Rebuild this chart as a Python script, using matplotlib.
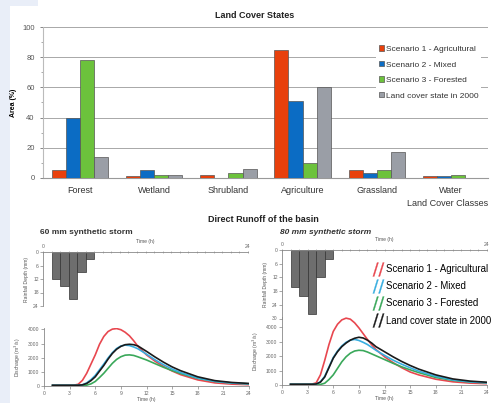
import matplotlib.pyplot as plt
from matplotlib.lines import Line2D
from matplotlib.patches import Rectangle
import numpy as np

plt.rcParams['font.family'] = ['Liberation Sans', 'DejaVu Sans']

# Land cover data (% of basin area)
classes = ['Forest', 'Wetland', 'Shrubland', 'Agriculture', 'Grassland', 'Water']
scenario1 = [5, 1, 2, 85, 5, 1]
scenario2 = [40, 5, 0, 51, 3, 1]
scenario3 = [78, 2, 3, 10, 5, 2]
state2000 = [14, 2, 6, 60, 17, 0]
bar_labels = ['Scenario 1 - Agricultural', 'Scenario 2 - Mixed',
              'Scenario 3 - Forested', 'Land cover state in 2000']
bar_colors = ['#e8400c', '#0b6cc4', '#6cc23c', '#9a9ea6']

# Hyetographs (rainfall depth per hour, mm)
rain_hours = [1, 2, 3, 4, 5]
rain60 = [12, 15, 21, 9, 3]
rain80 = [16, 20, 28, 12, 4]

# Direct runoff hydrographs (m3/s)
t = [1, 2, 3, 3.5, 4, 4.5, 5, 5.5, 6, 6.5, 7, 7.5, 8, 8.5, 9, 9.5, 10, 10.5,
     11, 12, 13, 14, 15, 16, 18, 20, 22, 24]
red60 = [50, 50, 50, 60, 120, 400, 900, 1550, 2200, 2950, 3500, 3850, 4020, 4060,
         3980, 3800, 3550, 3200, 2800, 2200, 1750, 1380, 1060, 800, 430, 220, 130, 90]
blue60 = [50, 50, 50, 50, 55, 90, 220, 450, 750, 1150, 1550, 1980, 2350, 2650,
          2830, 2890, 2860, 2760, 2630, 2250, 1850, 1500, 1200, 950, 560, 330, 210, 150]
green60 = [40, 40, 40, 40, 40, 40, 60, 150, 320, 600, 900, 1250, 1600, 1880,
           2070, 2180, 2200, 2160, 2060, 1840, 1580, 1320, 1090, 880, 540, 320, 210, 150]
black60 = [50, 50, 50, 50, 55, 80, 180, 380, 650, 1050, 1450, 1900, 2300, 2600,
           2800, 2920, 2950, 2920, 2830, 2450, 2050, 1680, 1350, 1080, 650, 380, 250, 180]
red80 = [50, 50, 50, 60, 150, 700, 1700, 2800, 3700, 4200, 4500, 4620, 4550, 4300,
         3950, 3550, 3150, 2780, 2450, 1950, 1550, 1200, 900, 700, 400, 220, 130, 90]
blue80 = [50, 50, 50, 50, 70, 220, 600, 1250, 1900, 2350, 2700, 2950, 3100, 3150,
          3080, 2950, 2800, 2600, 2400, 2050, 1720, 1440, 1190, 960, 600, 350, 220, 150]
green80 = [40, 40, 40, 40, 40, 40, 120, 380, 700, 1150, 1600, 1950, 2200, 2350,
           2400, 2380, 2280, 2150, 2020, 1760, 1500, 1260, 1050, 860, 520, 320, 210, 150]
black80 = [50, 50, 50, 50, 70, 200, 550, 1200, 1850, 2300, 2650, 2900, 3100, 3230,
           3300, 3250, 3100, 2900, 2650, 2300, 1950, 1630, 1350, 1100, 700, 420, 270, 190]
line_colors = ['#e8474f', '#38aee0', '#3aa85a', '#1a1a1a']

W, H = 495, 403


def box(x0, y0, x1, y1):
    # pixel box (top-left origin) -> figure fraction rect
    return [x0 / W, 1 - y1 / H, (x1 - x0) / W, (y1 - y0) / H]


fig = plt.figure(figsize=(W / 100, H / 100), dpi=100, facecolor='#e9eef8')
fig.patches.append(Rectangle((10 / W, 0), 1, (H - 6) / H, transform=fig.transFigure,
                             facecolor='white', edgecolor='none', zorder=-10))
fig.patches.append(Rectangle((38 / W, 0), 1, 1, transform=fig.transFigure,
                             facecolor='white', edgecolor='none', zorder=-10))

# ---------------- Land cover bar chart ----------------
ax = fig.add_axes(box(43, 27, 488, 178))
ax.set_facecolor('none')
x = np.arange(len(classes))
bw = 0.19
for i, vals in enumerate([scenario1, scenario2, scenario3, state2000]):
    ax.bar(x + (i - 1.5) * bw, vals, bw, color=bar_colors[i], edgecolor='#555555',
           linewidth=0.5, label=bar_labels[i], zorder=3)
ax.set_xlim(-0.5, len(classes) - 0.5)
ax.set_ylim(0, 100)
ax.set_yticks([0, 20, 40, 60, 80, 100])
ax.set_yticks([10, 30, 50, 70, 90], minor=True)
ax.set_xticks(x)
ax.set_xticklabels(classes, fontsize=6.5, color='#333333')
ax.tick_params(axis='x', length=0, pad=6)
ax.tick_params(axis='y', labelsize=5.5, colors='#555555', length=2.5, width=0.5)
ax.tick_params(axis='y', which='minor', length=1.5, width=0.5, colors='#888888')
ax.grid(axis='y', color='#a8a8a8', linewidth=0.7, zorder=0)
for s in ['top', 'right']:
    ax.spines[s].set_visible(False)
ax.spines['left'].set_color('#bbbbbb')
ax.spines['bottom'].set_color('#999999')
ax.set_ylabel('Area (%)', fontsize=5, fontweight='bold', labelpad=4)
fig.text(255 / W, 1 - 15 / H, 'Land Cover States', fontsize=6.5, fontweight='bold',
         ha='center', va='center', color='#222222')
fig.text(488 / W, 1 - 204 / H, 'Land Cover Classes', fontsize=6.5, ha='right',
         va='center', color='#333333')
leg = ax.legend(loc='upper left', bbox_to_anchor=(376 / W, 1 - 43 / H),
                bbox_transform=fig.transFigure, fontsize=6, frameon=True,
                facecolor='white', edgecolor='none', framealpha=1,
                handlelength=0.6, handleheight=0.6, handletextpad=0.3,
                labelspacing=0.95, borderpad=0.3, borderaxespad=0)
for txt in leg.get_texts():
    txt.set_color('#333333')
leg.set_zorder(5)

# ---------------- Direct runoff ----------------
fig.text(263 / W, 1 - 219 / H, 'Direct Runoff of the basin', fontsize=6.5,
         fontweight='bold', ha='center', va='center', color='#222222')

panels = [
    dict(rain=rain60, hy=(43, 252, 248, 306), ymax_r=24, q=(44, 328, 249, 386),
         qmax=4100, curves=[red60, blue60, green60, black60],
         title='60 mm synthetic storm', tx=40, style='normal'),
    dict(rain=rain80, hy=(282, 250, 487, 318.5), ymax_r=30, q=(282, 317, 487, 385),
         qmax=4700, curves=[red80, blue80, green80, black80],
         title='80 mm synthetic storm', tx=280, style='italic'),
]

small = 3.6
for p in panels:
    fig.text(p['tx'] / W, 1 - 233 / H, p['title'], fontsize=6, fontweight='bold',
             fontstyle=p['style'], ha='left', va='center', color='#333333')

    # hyetograph
    ah = fig.add_axes(box(*p['hy']))
    ah.set_facecolor('none')
    ah.bar([h + 0.5 for h in rain_hours], p['rain'], 1.0, color='#6e6e6e',
           edgecolor='#333333', linewidth=0.5)
    ah.set_xlim(0, 24)
    ah.set_ylim(p['ymax_r'], 0)
    ah.xaxis.tick_top()
    ah.xaxis.set_label_position('top')
    ah.set_xticks([0, 24])
    ah.set_xticks(np.arange(1, 24), minor=True)
    ah.set_yticks(np.arange(0, p['ymax_r'] + 1, 6))
    ah.tick_params(labelsize=small, colors='#666666', length=2, width=0.4, pad=1)
    ah.tick_params(axis='x', which='minor', length=1.5, width=0.4, direction='inout',
                   colors='#888888')
    ah.tick_params(axis='x', which='major', direction='inout')
    ah.set_xlabel('Time (h)', fontsize=small, color='#555555', labelpad=1)
    ah.set_ylabel('Rainfall Depth (mm)', fontsize=small, color='#555555', labelpad=3)
    for s in ['bottom', 'right']:
        ah.spines[s].set_visible(False)
    for s in ['top', 'left']:
        ah.spines[s].set_color('#888888')
        ah.spines[s].set_linewidth(0.6)

    # hydrograph
    aq = fig.add_axes(box(*p['q']))
    aq.set_facecolor('none')
    for vals, c in zip([p['curves'][0], p['curves'][2], p['curves'][1], p['curves'][3]],
                       [line_colors[0], line_colors[2], line_colors[1], line_colors[3]]):
        aq.plot(t, vals, color=c, linewidth=1.2)
    aq.set_xlim(0, 24)
    aq.set_ylim(0, p['qmax'])
    aq.set_xticks(np.arange(0, 25, 3))
    aq.set_yticks([0, 1000, 2000, 3000, 4000])
    aq.tick_params(labelsize=small, colors='#666666', length=2, width=0.4, pad=1.5)
    aq.set_xlabel('Time (h)', fontsize=small, color='#555555', labelpad=1)
    aq.set_ylabel('Discharge (m$^3$/s)', fontsize=small, color='#555555', labelpad=3)
    for s in ['top', 'right']:
        aq.spines[s].set_visible(False)
    for s in ['bottom', 'left']:
        aq.spines[s].set_color('#888888')
        aq.spines[s].set_linewidth(0.6)

handles = [Line2D([], [], linestyle='None', marker=r'$//$', markersize=10,
                  color=c, markeredgewidth=0.2) for c in line_colors]
fig.legend(handles, bar_labels, loc='upper left',
           bbox_to_anchor=(373 / W, 1 - 264 / H), fontsize=6.9, frameon=False,
           handlelength=1.0, handletextpad=0.4, labelspacing=0.75, borderpad=0,
           borderaxespad=0)

fig.savefig('out.png', dpi=100, facecolor=fig.get_facecolor())
